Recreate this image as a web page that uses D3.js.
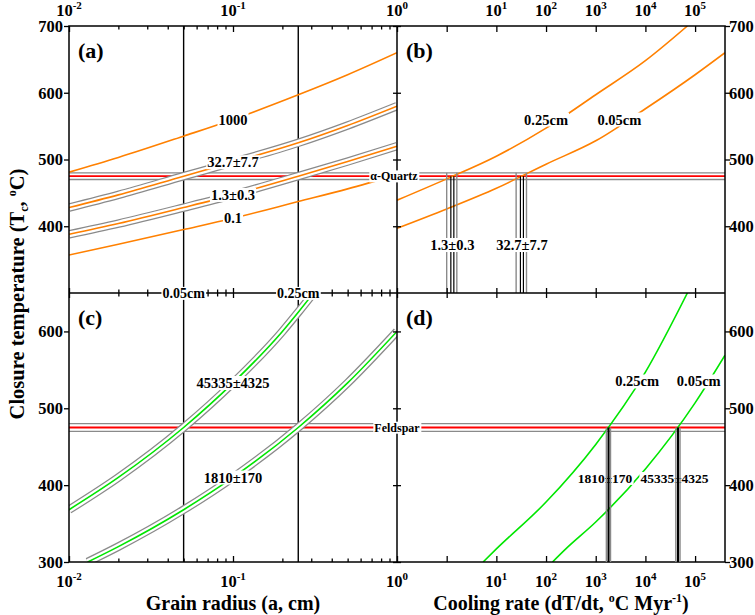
<!DOCTYPE html>
<html>
<head>
<meta charset="utf-8">
<script src="https://cdn.jsdelivr.net/npm/d3@7"></script>
<style>
body { margin: 0; background: #fff; }
text { font-family: "Liberation Serif", "Times New Roman", serif; font-weight: bold; fill: #000; }
</style>
</head>
<body>
<svg id="chart" width="755" height="615"></svg>
<script>
// ---- values ----
// (a) quartz: closure temperature vs grain radius, one curve per cooling rate
const radiusGrid = [0.01, 0.02, 0.05, 0.1, 0.25, 0.5, 1];
const qRateLabels = ["0.1", "1.3±0.3", "32.7±7.7", "1000"];
const qTcRate0p1 = [357, 373, 395, 412, 437, 456, 477];
const qTcRate1p3 = [388, 404, 428, 447, 475, 497, 520];
const qTcRate32p7 = [428, 447, 475, 496, 525, 551, 580];
const qTcRate1000 = [481, 503, 535, 560, 597, 627, 660];

// (b) quartz: closure temperature vs cooling rate
const qRate025 = [0.1, 1, 10, 100, 1000, 1e4, 7e4];
const qTc025 = [439, 471, 505, 547, 597, 648, 700];
const qRate005 = [0.1, 1, 10, 100, 1000, 1e4, 1e5, 4e5];
const qTc005 = [397, 426, 457, 493, 528, 576, 627, 660];
const qCoolRates = [1.3, 32.7];
const qCoolErr = [0.3, 7.7];

// (c) feldspar: closure temperature vs grain radius
const fRadius1810 = [0.013, 0.02, 0.05, 0.1, 0.25, 0.5, 1];
const fTc1810 = [300, 320, 368, 410, 475, 533, 600];
const fRadius45335 = [0.01, 0.02, 0.05, 0.1, 0.2, 0.25, 0.31];
const fTc45335 = [368, 410, 475, 533, 600, 625, 650];

// (d) feldspar: closure temperature vs cooling rate
const fRate025 = [5.4, 10, 100, 1000, 1e4, 7e4];
const fTc025 = [300, 317, 378, 453, 547, 650];
const fRate005 = [135, 250, 1000, 1e4, 1e5, 4e5];
const fTc005 = [300, 317, 352, 421, 507, 569];
const fCoolRates = [1810, 45335];
const fCoolErr = [170, 4325];

// mineral closure temperatures (centre, half-width) and grain sizes
const quartzTc = 475, quartzErr = 5;
const feldTc = 475, feldErr = 5;
const grainSizes = [0.05, 0.25];
const grainLabels = ["0.05cm", "0.25cm"];

// axis ticks
const radiusMajor = [0.01, 0.1, 1];
const radiusMinor = [2,3,4,5,6,7,8,9].flatMap(k => [k * 0.01, k * 0.1]);
const rateMajor = [1, 10, 100, 1000, 1e4, 1e5];
const rateLabelExp = [1, 2, 3, 4, 5];
const radiusLabelExp = [-2, -1, 0];
const tcTopTicks = [400, 500, 600, 700];
const tcBotTicks = [300, 400, 500, 600];

const ORANGE = "#ff8000", GREEN = "#00e600", GRAY = "#8a8a8a", RED = "#ff0000";

// ---- layout ----
const svg = d3.select("#chart");
const L = 69, M = 397, R = 725, T = 26, H = 293, B = 562;

const xA = d3.scaleLog().domain([0.01, 1]).range([L, M]);
const xB = d3.scaleLog().domain([0.1, 4e5]).range([M, R]);
const yTop = d3.scaleLinear().domain([300, 700]).range([H, T]);
const yBot = d3.scaleLinear().domain([300, 650]).range([B, H]);

const defs = svg.append("defs");
function clipRect(id, x0, x1, y0, y1) {
    defs.append("clipPath").attr("id", id).append("rect")
        .attr("x", x0).attr("y", y0).attr("width", x1 - x0).attr("height", y1 - y0);
    return svg.append("g").attr("clip-path", "url(#" + id + ")");
}

function vline(g, x, y0, y1, color, w) {
    g.append("line").attr("x1", x).attr("x2", x).attr("y1", y0).attr("y2", y1)
        .attr("stroke", color).attr("stroke-width", w);
}
function hline(g, y, x0, x1, color, w) {
    g.append("line").attr("x1", x0).attr("x2", x1).attr("y1", y).attr("y2", y)
        .attr("stroke", color).attr("stroke-width", w);
}

// curve, optionally with a grey uncertainty envelope drawn around it
function curve(g, xs, ys, x, y, color, envelope) {
    const d = d3.line().curve(d3.curveMonotoneX)(xs.map((v, i) => [x(v), y(ys[i])]));
    if (envelope) {
        g.append("path").attr("d", d).attr("fill", "none").attr("stroke", GRAY).attr("stroke-width", 8.5);
        g.append("path").attr("d", d).attr("fill", "none").attr("stroke", "#fff").attr("stroke-width", 6);
    }
    g.append("path").attr("d", d).attr("fill", "none").attr("stroke", color).attr("stroke-width", 1.6);
}

// text label, with a white box behind it when bg is set
function tag(x, y, str, size, bg, anchor) {
    const t = svg.append("text").attr("x", x).attr("y", y).attr("dy", "0.35em")
        .attr("text-anchor", anchor || "middle").attr("font-size", size).text(str);
    if (bg) {
        const b = t.node().getBBox();
        svg.insert("rect", () => t.node())
            .attr("x", b.x - 1).attr("y", b.y + 1)
            .attr("width", b.width + 2).attr("height", b.height - 2)
            .attr("fill", "#fff");
    }
    return t;
}

// ---- grain size lines through (a) and (c) ----
const gGrid = svg.append("g");
grainSizes.forEach(a => vline(gGrid, xA(a), T, B, "#000", 1.4));

// ---- closure temperature bands ----
const gBand = svg.append("g");
[quartzTc - quartzErr, quartzTc + quartzErr].forEach(v => hline(gBand, yTop(v), L, R, GRAY, 1.4));
hline(gBand, yTop(quartzTc), L, R, RED, 1.8);
[feldTc - feldErr, feldTc + feldErr].forEach(v => hline(gBand, yBot(v), L, R, GRAY, 1.4));
hline(gBand, yBot(feldTc), L, R, RED, 1.8);

// ---- curves ----
const pA = clipRect("ca", L, M, T, H);
const pB = clipRect("cb", M, R, T, H);
const pC = clipRect("cc", L, M, H, B);
const pD = clipRect("cd", M, R, H, B);

const qSeries = [qTcRate0p1, qTcRate1p3, qTcRate32p7, qTcRate1000];
qSeries.forEach((s, i) => curve(pA, radiusGrid, s, xA, yTop, ORANGE, i === 1 || i === 2));

curve(pB, qRate025, qTc025, xB, yTop, ORANGE, false);
curve(pB, qRate005, qTc005, xB, yTop, ORANGE, false);

curve(pC, fRadius1810, fTc1810, xA, yBot, GREEN, true);
curve(pC, fRadius45335, fTc45335, xA, yBot, GREEN, true);

curve(pD, fRate025, fTc025, xB, yBot, GREEN, false);
curve(pD, fRate005, fTc005, xB, yBot, GREEN, false);

// ---- cooling rate markers in (b) ----
const gMark = svg.append("g");
qCoolRates.forEach((r, i) => {
    [r - qCoolErr[i], r + qCoolErr[i]].forEach(v => vline(gMark, xB(v), yTop(quartzTc + quartzErr), H, GRAY, 1.4));
    vline(gMark, xB(r) - 1.5, yTop(quartzTc), H, "#000", 1.2);
    vline(gMark, xB(r) + 1.5, yTop(quartzTc), H, "#000", 1.2);
});

// ---- frame and ticks ----
const gAxis = svg.append("g");
function ticks(axisFn, scale, vals, size, tx, ty) {
    gAxis.append("g").attr("transform", "translate(" + tx + "," + ty + ")")
        .call(axisFn(scale).tickValues(vals).tickSize(size).tickFormat(""))
        .call(g => g.select(".domain").remove())
        .selectAll("line").attr("stroke", "#000").attr("stroke-width", 1.3);
}
// top (inward)
ticks(d3.axisTop, xA, radiusMajor, -6, 0, T);
ticks(d3.axisTop, xA, radiusMinor, -3.5, 0, T);
ticks(d3.axisTop, xB, rateMajor, -6, 0, T);
// middle horizontal (both sides)
[d3.axisTop, d3.axisBottom].forEach(fn => {
    ticks(fn, xA, radiusMajor, 5, 0, H);
    ticks(fn, xA, radiusMinor, 3.5, 0, H);
    ticks(fn, xB, rateMajor, 5, 0, H);
});
// bottom (inward)
ticks(d3.axisBottom, xA, radiusMajor, -6, 0, B);
ticks(d3.axisBottom, xA, radiusMinor, -3.5, 0, B);
ticks(d3.axisBottom, xB, rateMajor, -6, 0, B);
// left and right (outward), middle vertical (both sides)
ticks(d3.axisLeft, yTop, tcTopTicks, 5, L, 0);
ticks(d3.axisLeft, yBot, tcBotTicks, 5, L, 0);
ticks(d3.axisRight, yTop, tcTopTicks, 5, R, 0);
ticks(d3.axisRight, yBot, tcBotTicks, 5, R, 0);
[d3.axisLeft, d3.axisRight].forEach(fn => {
    ticks(fn, yTop, tcTopTicks, 4, M, 0);
    ticks(fn, yBot, tcBotTicks, 4, M, 0);
});

gAxis.append("rect").attr("x", L).attr("y", T).attr("width", R - L).attr("height", B - T)
    .attr("fill", "none").attr("stroke", "#000").attr("stroke-width", 1.5);
hline(gAxis, H, L, R, "#000", 1.5);
vline(gAxis, M, T, B, "#000", 1.5);

// ---- tick labels ----
function powLabel(x, y, e) {
    const t = svg.append("text").attr("x", x).attr("y", y).attr("text-anchor", "middle").attr("font-size", 16.5);
    t.append("tspan").text("10");
    t.append("tspan").attr("dy", -7).attr("font-size", 11).text(e);
}
radiusLabelExp.forEach(e => { powLabel(xA(Math.pow(10, e)), 16, e); powLabel(xA(Math.pow(10, e)), 587, e); });
rateLabelExp.forEach(e => { powLabel(xB(Math.pow(10, e)), 16, e); powLabel(xB(Math.pow(10, e)), 587, e); });

function tcLabel(x, y, v, anchor) {
    svg.append("text").attr("x", x).attr("y", y).attr("dy", "0.35em")
        .attr("text-anchor", anchor).attr("font-size", 16.5).text(v);
}
tcTopTicks.forEach(v => { tcLabel(L - 6, yTop(v), v, "end"); tcLabel(R + 4, yTop(v), v, "start"); });
tcBotTicks.forEach(v => { tcLabel(L - 6, yBot(v), v, "end"); tcLabel(R + 4, yBot(v), v, "start"); });

// ---- axis titles ----
const yTitle = svg.append("text").attr("transform", "translate(24," + ((T + B) / 2) + ") rotate(-90)")
    .attr("font-size", 20.5);
yTitle.append("tspan").text("Closure temperature (T");
yTitle.append("tspan").attr("dy", 4).attr("font-size", 12).text("c");
yTitle.append("tspan").attr("dy", -4).text(", ");
yTitle.append("tspan").attr("dy", -8).attr("font-size", 12).text("o");
yTitle.append("tspan").attr("dy", 8).text("C)");
yTitle.attr("x", -yTitle.node().getBBox().width / 2);

svg.append("text").attr("x", (L + M) / 2).attr("y", 610).attr("text-anchor", "middle")
    .attr("font-size", 20).text("Grain radius (a, cm)");
const xTitle = svg.append("text").attr("y", 610).attr("font-size", 20);
xTitle.append("tspan").text("Cooling rate (dT/dt, ");
xTitle.append("tspan").attr("dy", -8).attr("font-size", 12).text("o");
xTitle.append("tspan").attr("dy", 8).text("C Myr");
xTitle.append("tspan").attr("dy", -8).attr("font-size", 12).text("-1");
xTitle.append("tspan").attr("dy", 8).text(")");
xTitle.attr("x", (M + R) / 2 - xTitle.node().getBBox().width / 2);

// ---- panel letters ----
[["(a)", L, T], ["(b)", M, T], ["(c)", L, H], ["(d)", M, H]].forEach(([s, x, y]) =>
    svg.append("text").attr("x", x + 9).attr("y", y + 32).attr("font-size", 22).text(s));

// ---- in-plot labels ----
qSeries.forEach((s, i) => tag(xA(0.1), yTop(s[3]), qRateLabels[i], 14.5, true));
tag(xA(0.1), yBot(fTc45335[3]), "45335±4325", 14.5, true);
tag(xA(0.1), yBot(fTc1810[3]), "1810±170", 14.5, true);

grainSizes.forEach((a, i) => tag(xA(a), H, grainLabels[i], 14, true));
tag(M - 3, yTop(quartzTc), "α-Quartz", 12, true);
tag(M, yBot(feldTc), "Feldspar", 12, true);

tag(xB(100), yTop(560), "0.25cm", 14.5, true);
tag(xB(3000), yTop(560), "0.05cm", 14.5, true);
qCoolRates.forEach((r, i) => tag(xB(r), yTop(372), r + "±" + qCoolErr[i], 14.5, true));

tag(xB(6800), yBot(535), "0.25cm", 14.5, true);
tag(xB(1.3e5) - 2, yBot(535), "0.05cm", 14.5, true);
// the "±" of each label sits on its marker line
fCoolRates.forEach((r, i) => tag(xB(r) - 3.5, yBot(409), r + "±" + fCoolErr[i], 13.5, true));

// ---- cooling rate markers in (d) ----
fCoolRates.forEach((r, i) => {
    [r - fCoolErr[i], r + fCoolErr[i]].forEach(v => vline(svg, xB(v), yBot(feldTc), B, GRAY, 1.5));
    vline(svg, xB(r), yBot(feldTc), B, "#000", 2);
});
</script>
</body>
</html>
